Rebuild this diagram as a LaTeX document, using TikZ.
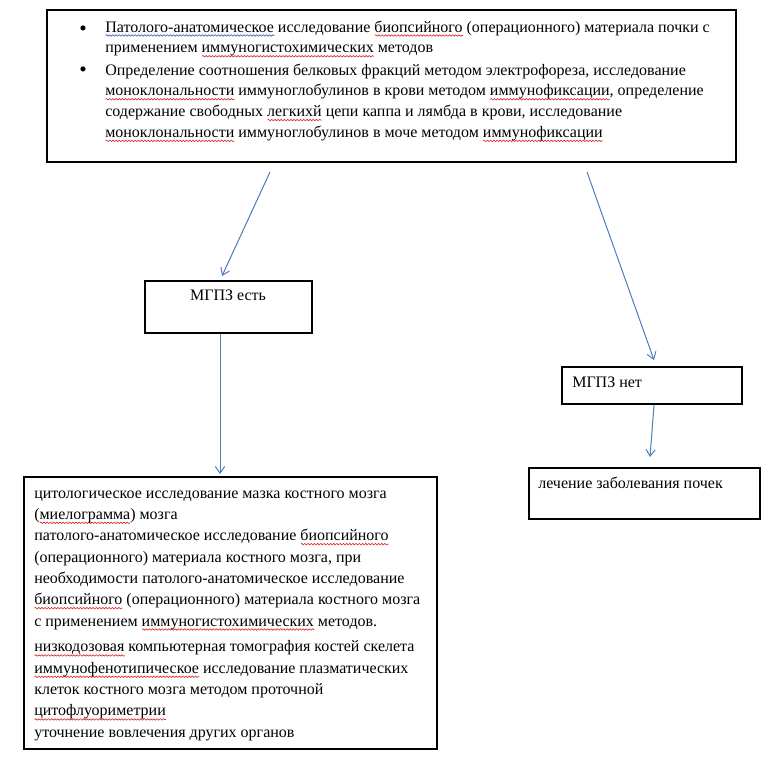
\documentclass[tikz,border=0pt]{standalone}
\usepackage{fontspec}
\setmainfont{Liberation Serif}
\usetikzlibrary{arrows.meta,decorations.pathmorphing}
\definecolor{arrowblue}{HTML}{4A7EBB}
\definecolor{wavered}{HTML}{E02020}
\definecolor{waveblue}{HTML}{3050D0}
\newsavebox\wvbox
\newlength\wvlen
\newcommand\wvline[2]{\sbox\wvbox{#2}\setlength\wvlen{\wd\wvbox}%
  \rlap{\tikz[x=1pt,y=1pt,baseline=0pt]\draw[#1,line width=0.45pt,decorate,decoration={snake,amplitude=0.55pt,segment length=2.4pt}] (0pt,-2.6pt) -- (\wvlen,-2.6pt);}%
  \usebox\wvbox}
\newcommand\rw[1]{\wvline{wavered}{#1}}
\newcommand\bw[1]{\wvline{waveblue}{#1}}
\tikzset{
  box/.style={draw=black, line width=0.8pt, rectangle, inner sep=0pt},
  txt/.style={inner sep=0pt, align=left, font=\fontsize{12pt}{15.6pt}\selectfont},
  bul/.style={inner sep=0pt, font=\fontsize{16pt}{16pt}\selectfont},
  arr/.style={draw=arrowblue, line width=0.75pt, -{Straight Barb[length=5pt,width=7pt]}}
}
\begin{document}
\begin{tikzpicture}[x=0.75pt,y=-0.75pt]
\useasboundingbox (0,0) rectangle (770,765);
% boxes
\node[box, minimum width=516.75pt, minimum height=114pt] (top) at (391.5,86) {};
\node[box, minimum width=125.25pt, minimum height=39pt] (yes) at (228.5,307) {};
\node[box, minimum width=135pt, minimum height=27.75pt] (no) at (652,385.5) {};
\node[box, minimum width=173.25pt, minimum height=38.25pt] (kid) at (644.5,493.5) {};
\node[box, minimum width=309.75pt, minimum height=204pt] (bm) at (230.5,613) {};
% top box text (base anchor = baseline of last line)
\node[bul] (b1) at (83,31) {•};
\node[txt, anchor=base west] (t1) at (105,52.8) {\bw{Патолого-анатомическое} исследование \rw{биопсийного} (операционного) материала почки с\\
применением \rw{иммуногистохимических} методов};
\node[bul] (b2) at (83,72) {•};
\node[txt, anchor=base west] (t2) at (105,137.4) {Определение соотношения белковых фракций методом электрофореза, исследование\\
\rw{моноклональности} иммуноглобулинов в крови методом \rw{иммунофиксации}, определение\\
содержание свободных \rw{легкихй} цепи каппа и лямбда в крови, исследование\\
\rw{моноклональности} иммуноглобулинов в моче методом \rw{иммунофиксации}};
% small boxes text
\node[txt, anchor=base] (tyes) at (228,300) {МГПЗ есть};
\node[txt, anchor=base west] (tno) at (572,387) {МГПЗ нет};
\node[txt, anchor=base west] (tkid) at (538,488) {лечение заболевания почек};
% bottom-left text
\node[txt, anchor=base west, font=\fontsize{12pt}{16pt}\selectfont] (bm1) at (34,626) {цитологическое исследование мазка костного мозга\\
(\rw{миелограмма}) мозга\\
патолого-анатомическое исследование \rw{биопсийного}\\
(операционного) материала костного мозга, при\\
необходимости патолого-анатомическое исследование\\
\rw{биопсийного} (операционного) материала костного мозга\\
с применением \rw{иммуногистохимических} методов.};
\node[txt, anchor=base west, font=\fontsize{12pt}{16pt}\selectfont] (bm2) at (34,737.3) {\rw{низкодозовая} компьютерная томография костей скелета\\
\rw{иммунофенотипическое} исследование плазматических\\
клеток костного мозга методом проточной\\
\rw{цитофлуориметрии}\\
уточнение вовлечения других органов};
% arrow end points
\coordinate (a1s) at (270,172);
\coordinate (a1e) at (222,276);
\coordinate (a2s) at (220,334);
\coordinate (a2e) at (220,474);
\coordinate (a3s) at (587,172);
\coordinate (a3e) at (654,360);
\coordinate (a4s) at (654,405);
\coordinate (a4e) at (650,457);
\draw[arr] (a1s) -- (a1e);
\draw[arr] (a2s) -- (a2e);
\draw[arr] (a3s) -- (a3e);
\draw[arr] (a4s) -- (a4e);
\end{tikzpicture}
\end{document}
